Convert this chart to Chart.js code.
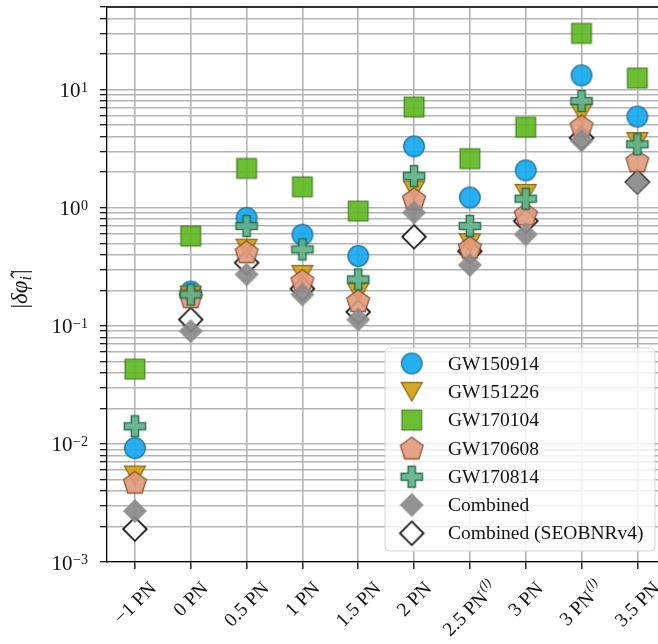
<!DOCTYPE html>
<html>
<head>
<meta charset="utf-8">
<script src="https://cdn.jsdelivr.net/npm/chart.js@4.4.0/dist/chart.umd.min.js"></script>
<style>
  html, body { margin: 0; padding: 0; background: #fff; overflow: hidden; }
  #wrap { width: 658px; height: 644px; }
</style>
</head>
<body>
<div id="wrap"><canvas id="chart"></canvas></div>
<script>
// PN orders on the x axis; logTerm marks the (l) superscript ones
const categories = ["\u22121 PN", "0 PN", "0.5 PN", "1 PN", "1.5 PN", "2 PN", "2.5 PN", "3 PN", "3 PN", "3.5 PN"];
const logTerm = [false, false, false, false, false, false, true, false, true, false];

// |delta phi_i|
const gw150914 = [0.0092, 0.195, 0.82, 0.59, 0.39, 3.3, 1.22, 2.07, 13.2, 5.9];
const gw151226 = [0.0054, 0.18, 0.45, 0.27, 0.19, 1.4, 0.5, 1.31, 6.3, 3.6];
const gw170104 = [0.043, 0.575, 2.15, 1.5, 0.935, 7.1, 2.6, 4.8, 29.9, 12.5];
const gw170608 = [0.0047, 0.175, 0.42, 0.24, 0.162, 1.18, 0.458, 0.877, 4.9, 2.48];
const gw170814 = [0.0141, 0.184, 0.7, 0.443, 0.247, 1.85, 0.7, 1.19, 8.0, 3.44];
const combined = [0.0027, 0.09, 0.272, 0.184, 0.113, 0.91, 0.327, 0.594, 3.7, 1.63];
const seobnr = [0.0019, 0.113, 0.342, 0.206, 0.131, 0.567, 0.428, 0.77, 3.9, 1.65];

const yMin = 0.001, yMax = 50;
const yTickPowers = [-3, -2, -1, 0, 1];

const SERIF = '"Liberation Serif", "Times New Roman", serif';

// marker images (matplotlib-like filled shapes)
function makeMarker(path, fill, edge, lw, alpha) {
  const c = document.createElement('canvas');
  c.width = 30; c.height = 30;
  const g = c.getContext('2d');
  g.translate(15, 15);
  g.globalAlpha = alpha;
  g.beginPath();
  path(g);
  g.closePath();
  if (fill) { g.fillStyle = fill; g.fill(); }
  if (edge) { g.strokeStyle = edge; g.lineWidth = lw; g.lineJoin = 'miter'; g.stroke(); }
  return c;
}
const circlePath = g => g.arc(0, 0, 10.3, 0, Math.PI * 2);
const triPath = g => { g.moveTo(-10.5, -9.3); g.lineTo(10.5, -9.3); g.lineTo(0, 9.3); };
const squarePath = g => g.rect(-9.8, -9.8, 19.6, 19.6);
const pentPath = g => {
  for (let k = 0; k < 5; k++) {
    const t = -Math.PI / 2 + k * 2 * Math.PI / 5;
    const px = 12 * Math.cos(t), py = 12 * Math.sin(t) + 0.8;
    k ? g.lineTo(px, py) : g.moveTo(px, py);
  }
};
const plusPath = g => {
  const a = 3.6, b = 10.6;
  g.moveTo(-a, -b); g.lineTo(a, -b); g.lineTo(a, -a); g.lineTo(b, -a); g.lineTo(b, a); g.lineTo(a, a);
  g.lineTo(a, b); g.lineTo(-a, b); g.lineTo(-a, a); g.lineTo(-b, a); g.lineTo(-b, -a); g.lineTo(-a, -a);
};
const diamondPath = r => g => { g.moveTo(0, -r); g.lineTo(r, 0); g.lineTo(0, r); g.lineTo(-r, 0); };

const mCircle = makeMarker(circlePath, '#14a9f0', '#1d6e99', 1.3, 0.92);
const mTri = makeMarker(triPath, '#d2a012', '#7d5c0c', 1.3, 0.9);
const mSquare = makeMarker(squarePath, '#5cb81c', '#3d7a18', 1.3, 0.9);
const mPent = makeMarker(pentPath, '#e19a7b', '#8c4527', 1.3, 0.9);
const mPlus = makeMarker(plusPath, '#5fb088', '#1d6a45', 1.5, 0.9);
const mComb = makeMarker(diamondPath(12), '#8a8a8a', null, 0, 0.92);
const mSeob = makeMarker(diamondPath(11.8), '#ffffff', '#1a1a1a', 1.8, 1);

function pts(arr) { return arr.map((v, i) => ({ x: i, y: v })); }
function ds(label, arr, marker) {
  return { label: label, data: pts(arr), pointStyle: marker, pointRadius: 11, showLine: false };
}

const legendItems = [
  ['GW150914', mCircle], ['GW151226', mTri], ['GW170104', mSquare], ['GW170608', mPent],
  ['GW170814', mPlus], ['Combined', mComb], ['Combined (SEOBNRv4)', mSeob]
];

// axis labels, top spine, legend
const extras = {
  id: 'extras',
  afterDraw(chart) {
    const { ctx, chartArea: a, scales: { x, y } } = chart;
    ctx.save();
    ctx.strokeStyle = '#000';
    ctx.lineWidth = 1.3;
    ctx.beginPath(); ctx.moveTo(a.left, a.top); ctx.lineTo(a.right, a.top); ctx.stroke();

    ctx.fillStyle = '#111';
    yTickPowers.forEach(p => {
      const py = y.getPixelForValue(Math.pow(10, p));
      const ex = (p < 0 ? '\u2212' : '') + Math.abs(p);
      const xr = a.left - 19;
      ctx.font = '14px ' + SERIF;
      const ew = ctx.measureText(ex).width;
      ctx.textAlign = 'left'; ctx.textBaseline = 'alphabetic';
      ctx.fillText(ex, xr - ew, py + 2);
      ctx.font = '21px ' + SERIF;
      ctx.textAlign = 'right';
      ctx.fillText('10', xr - ew - 0.5, py + 7.5);
    });

    categories.forEach((lab, i) => {
      const px = x.getPixelForValue(i);
      ctx.font = '19.5px ' + SERIF;
      const mw = ctx.measureText(lab).width;
      let sw = 0;
      if (logTerm[i]) { ctx.font = 'italic 13px ' + SERIF; sw = ctx.measureText('(l)').width + 1; }
      const w = mw + sw, h = 17;
      const cy = a.bottom + 17 + (w + h) / Math.SQRT2 / 2;
      ctx.save();
      ctx.translate(px, cy);
      ctx.rotate(-Math.PI / 4);
      ctx.textAlign = 'left'; ctx.textBaseline = 'middle';
      ctx.font = '19.5px ' + SERIF;
      ctx.fillText(lab, -w / 2, 1);
      if (sw) { ctx.font = 'italic 13px ' + SERIF; ctx.fillText('(l)', -w / 2 + mw + 1, -6); }
      ctx.restore();
    });

    // y title |dphi_i|
    ctx.save();
    ctx.translate(21, 289);
    ctx.rotate(-Math.PI / 2);
    ctx.textBaseline = 'middle'; ctx.textAlign = 'left';
    ctx.font = '23px ' + SERIF;
    const bar = ctx.measureText('|').width;
    ctx.font = 'italic 23px ' + SERIF;
    const main = '\u03b4\u03c6\u0302';
    const mainW = ctx.measureText(main).width;
    ctx.font = 'italic 16px ' + SERIF;
    const subW = ctx.measureText('i').width;
    let tx = -(bar * 2 + mainW + subW + 2) / 2;
    ctx.font = '23px ' + SERIF; ctx.fillText('|', tx, 0); tx += bar;
    ctx.font = 'italic 23px ' + SERIF; ctx.fillText(main, tx, 0); tx += mainW;
    ctx.font = 'italic 16px ' + SERIF; ctx.fillText('i', tx, 6); tx += subW + 2;
    ctx.font = '23px ' + SERIF; ctx.fillText('|', tx, 0);
    ctx.restore();

    // legend box inside the axes
    const bx = 385, by = 348, bw = 270, bh = 203, r = 4;
    ctx.beginPath();
    ctx.moveTo(bx + r, by); ctx.lineTo(bx + bw - r, by); ctx.arcTo(bx + bw, by, bx + bw, by + r, r);
    ctx.lineTo(bx + bw, by + bh - r); ctx.arcTo(bx + bw, by + bh, bx + bw - r, by + bh, r);
    ctx.lineTo(bx + r, by + bh); ctx.arcTo(bx, by + bh, bx, by + bh - r, r);
    ctx.lineTo(bx, by + r); ctx.arcTo(bx, by, bx + r, by, r);
    ctx.closePath();
    ctx.fillStyle = 'rgba(255,255,255,0.8)'; ctx.fill();
    ctx.strokeStyle = '#d4d4d4'; ctx.lineWidth = 1; ctx.stroke();
    ctx.font = '19.5px ' + SERIF;
    ctx.fillStyle = '#111';
    ctx.textAlign = 'left'; ctx.textBaseline = 'middle';
    legendItems.forEach(([name, m], k) => {
      const ry = 363.5 + k * 28.3;
      ctx.drawImage(m, 411.7 - m.width / 2, ry - m.height / 2);
      ctx.fillText(name, 448, ry + 1);
    });
    ctx.restore();
  }
};

// Chart.js paints the first dataset on top, so list them top-down
new Chart(document.getElementById('chart'), {
  type: 'scatter',
  data: {
    datasets: [
      ds('Combined', combined, mComb),
      ds('GW170814', gw170814, mPlus),
      ds('GW170608', gw170608, mPent),
      ds('GW170104', gw170104, mSquare),
      ds('GW151226', gw151226, mTri),
      ds('GW150914', gw150914, mCircle),
      ds('Combined (SEOBNRv4)', seobnr, mSeob)
    ]
  },
  options: {
    responsive: true,
    maintainAspectRatio: false,
    animation: false,
    layout: { autoPadding: false, padding: { left: 100, top: 7, right: 0, bottom: 75 } },
    plugins: { legend: { display: false }, tooltip: { enabled: false } },
    scales: {
      x: {
        type: 'linear',
        min: -0.5,
        max: 9.37,
        afterBuildTicks: scale => { scale.ticks = categories.map((c, i) => ({ value: i })); },
        ticks: { display: false },
        grid: { color: '#b4b4b4', lineWidth: 1.6, tickColor: '#000', tickLength: 7, tickWidth: 1.3 },
        border: { color: '#000', width: 1.3 }
      },
      y: {
        type: 'logarithmic',
        min: yMin,
        max: yMax,
        afterBuildTicks: scale => {
          const t = [];
          yTickPowers.forEach(p => {
            for (let m = 1; m <= 9; m++) {
              const v = m * Math.pow(10, p);
              if (v <= yMax) t.push({ value: v, major: m === 1 });
            }
          });
          scale.ticks = t;
        },
        ticks: { display: false },
        grid: { color: '#b4b4b4', lineWidth: 1.4, tickColor: '#000', tickLength: 7, tickWidth: 1.2 },
        border: { color: '#000', width: 1.3 }
      }
    }
  },
  plugins: [extras]
});
</script>
</body>
</html>
